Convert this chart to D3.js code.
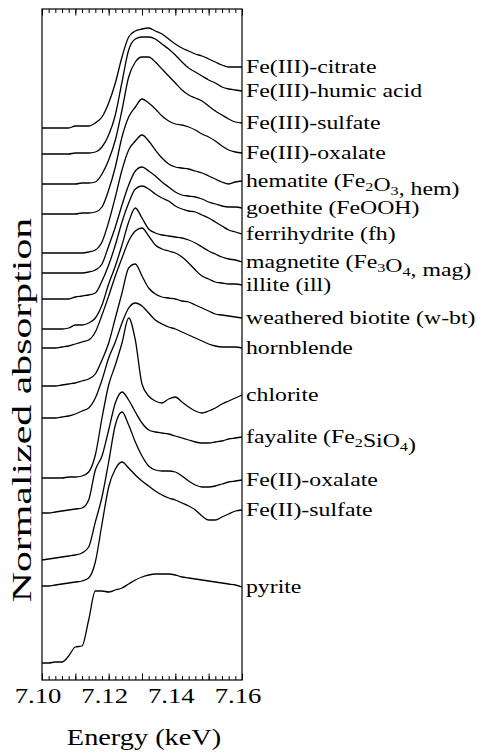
<!DOCTYPE html>
<html>
<head>
<meta charset="utf-8">
<script src="https://cdn.jsdelivr.net/npm/d3@7"></script>
<style>
body { margin: 0; background: #fff; }
text { font-family: "Liberation Serif", "Times New Roman", serif; fill: #000; }
</style>
</head>
<body>
<svg id="chart" width="477" height="754"></svg>
<script>
// energy grid (keV)
const energy = [7.100, 7.102, 7.104, 7.106, 7.108, 7.110, 7.112, 7.114, 7.116, 7.118,
    7.120, 7.122, 7.124, 7.126, 7.128, 7.130, 7.132, 7.134, 7.136, 7.138,
    7.140, 7.142, 7.144, 7.146, 7.148, 7.150, 7.152, 7.154, 7.156, 7.158, 7.160]

const names = ["Fe(III)-citrate", "Fe(III)-humic acid", "Fe(III)-sulfate", "Fe(III)-oxalate",
    "hematite (Fe_2O_3, hem)", "goethite (FeOOH)", "ferrihydrite (fh)", "magnetite (Fe_3O_4, mag)",
    "illite (ill)", "weathered biotite (w-bt)", "hornblende", "chlorite",
    "fayalite (Fe_2SiO_4)", "Fe(II)-oxalate", "Fe(II)-sulfate", "pyrite"]

// vertical stacking offsets (pre-edge level of each spectrum)
const offsets = [5.52, 5.26, 4.96, 4.66, 4.27, 4.07, 3.81, 3.51, 3.32, 2.94, 2.62, 2.02, 1.67, 1.20, 0.94, 0.17]

// normalized absorption above each offset
const feCitrate = [0, 0, 0, 0, 0, .02, .02, .02, .05, .11, .25, .45, .71, .91, .97, .99, 1.00, .97, .94, .89, .84, .80, .77, .74, .72, .69, .66, .63, .61, .61, .61]
const feHumic = [0, 0, 0, 0, 0, .01, .01, .01, .02, .07, .19, .39, .72, 1.04, 1.15, 1.17, 1.17, 1.15, 1.10, 1.05, .99, .92, .86, .82, .78, .74, .71, .67, .65, .64, .63]
const fe3Sulfate = [0, 0, 0, 0, 0, 0, .01, .01, .02, .10, .24, .44, .74, 1.07, 1.22, 1.27, 1.27, 1.22, 1.15, 1.08, 1.01, .94, .89, .86, .83, .78, .73, .69, .65, .62, .61]
const fe3Oxalate = [0, 0, 0, 0, 0, 0, .01, .01, .02, .07, .24, .47, .77, .97, 1.07, 1.15, 1.11, 1.05, .98, .93, .90, .89, .87, .84, .80, .77, .73, .68, .64, .62, .61]
const hematite = [0, 0, 0, 0, 0, 0, 0, .01, .03, .11, .31, .56, .83, 1.03, 1.12, 1.18, 1.12, 1.03, .95, .89, .86, .85, .84, .82, .80, .77, .74, .71, .69, .71, .72]
const goethite = [0, 0, 0, 0, 0, 0, 0, .01, .03, .09, .27, .46, .68, .88, 1.02, 1.06, 1.02, .97, .91, .86, .81, .78, .77, .76, .74, .71, .69, .67, .66, .66, .65]
const ferrihydrite = [0, 0, 0, 0, 0, .02, .03, .04, .06, .18, .34, .54, .77, .96, 1.10, 1.13, 1.10, 1.05, 1.01, .98, .93, .90, .88, .87, .84, .81, .77, .73, .69, .67, .65]
const magnetite = [0, 0, 0, 0, .01, .04, .04, .06, .11, .24, .45, .63, .84, 1.07, 1.21, 1.11, 1.00, .96, .94, .93, .92, .91, .89, .86, .82, .78, .75, .72, .70, .69, .67]
const illite = [0, 0, 0, .01, .02, .04, .06, .08, .16, .33, .52, .72, .90, 1.07, 1.17, 1.20, 1.12, 1.03, .99, .97, .95, .91, .85, .78, .72, .69, .66, .65, .64, .64, .63]
const wBiotite = [0, 0, 0, .01, .02, .03, .05, .07, .12, .26, .43, .68, .93, 1.18, 1.22, 1.10, .98, .92, .89, .88, .87, .85, .84, .81, .78, .75, .72, .71, .70, .69, .68]
const hornblende = [0, 0, 0, .01, .02, .04, .07, .10, .20, .38, .60, .76, .95, 1.10, 1.15, 1.12, 1.05, .98, .94, .91, .89, .86, .83, .80, .77, .74, .72, .71, .71, .71, .70]
const chlorite = [0, 0, 0, 0, .01, .01, .02, .06, .23, .60, .93, 1.13, 1.35, 1.60, 1.38, .94, .82, .77, .75, .79, .81, .76, .71, .67, .65, .67, .70, .74, .77, .80, .83]
const fayalite = [0, 0, .01, .02, .03, .04, .05, .13, .43, .57, .83, 1.10, 1.21, 1.13, 1.01, .90, .83, .81, .80, .79, .77, .75, .73, .71, .70, .70, .71, .72, .74, .75, .76]
const fe2Oxalate = [0, .01, .02, .03, .04, .05, .07, .13, .38, .63, .98, 1.35, 1.48, 1.35, 1.18, 1.04, .94, .90, .89, .89, .88, .84, .79, .75, .73, .73, .74, .76, .78, .79, .80]
const fe2Sulfate = [0, 0, .01, .02, .03, .04, .05, .08, .24, .62, .99, 1.17, 1.24, 1.18, 1.11, 1.05, 1.00, .95, .91, .88, .86, .83, .80, .76, .70, .66, .66, .69, .72, .75, .76]
const pyrite = [0, 0, .01, .01, .07, .16, .17, .43, .72, .72, .71, .73, .75, .79, .83, .86, .88, .89, .89, .89, .88, .86, .85, .84, .83, .82, .81, .80, .79, .78, .76]

const spectra = [feCitrate, feHumic, fe3Sulfate, fe3Oxalate, hematite, goethite, ferrihydrite, magnetite,
    illite, wBiotite, hornblende, chlorite, fayalite, fe2Oxalate, fe2Sulfate, pyrite]

const labelTicks = [7.10, 7.12, 7.14, 7.16]
const majorTicks = [7.10, 7.11, 7.12, 7.13, 7.14, 7.15, 7.16]
const minorTicks = energy

const plot = {left: 42, right: 242, top: 9, bottom: 680}

const svg = d3.select("#chart")

const x = d3.scaleLinear().domain([7.10, 7.16]).range([plot.left, plot.right])
const y = d3.scaleLinear().domain([0, 6.71]).range([plot.bottom, plot.top])

// inward ticks, top and bottom
function tickRow(axisFn, ypos, values, len) {
    svg.append("g")
        .attr("transform", `translate(0,${ypos})`)
        .call(axisFn(x).tickValues(values).tickSize(-len).tickFormat(""))
        .call(g => g.select(".domain").remove())
        .call(g => g.selectAll("line").attr("stroke", "#000").attr("stroke-width", 1))
}
tickRow(d3.axisTop, plot.top, minorTicks, 4)
tickRow(d3.axisTop, plot.top, majorTicks, 6.5)
tickRow(d3.axisBottom, plot.bottom, minorTicks, 4)
tickRow(d3.axisBottom, plot.bottom, majorTicks, 6.5)

svg.append("rect")
    .attr("x", plot.left)
    .attr("y", plot.top)
    .attr("width", plot.right - plot.left)
    .attr("height", plot.bottom - plot.top)
    .attr("fill", "none")
    .attr("stroke", "#000")
    .attr("stroke-width", 1.2)

svg.append("g")
    .selectAll("text")
    .data(labelTicks)
    .join("text")
    .attr("transform", d => `translate(${x(d) - 4},703) scale(1.27,1)`)
    .attr("text-anchor", "middle")
    .attr("font-size", 21)
    .text(d3.format(".2f"))

svg.append("text")
    .attr("transform", "translate(144,745) scale(1.18,1)")
    .attr("text-anchor", "middle")
    .attr("font-size", 24)
    .text("Energy (keV)")

svg.append("text")
    .attr("transform", "translate(31,410) rotate(-90) scale(1.55,1)")
    .attr("text-anchor", "middle")
    .attr("font-size", 27)
    .text("Normalized absorption")

const line = d3.line()
    .x((d, i) => x(energy[i]))
    .y(d => y(d))
    .curve(d3.curveMonotoneX)

svg.append("g")
    .selectAll("path")
    .data(spectra)
    .join("path")
    .attr("d", (s, k) => line(s.map(v => v + offsets[k])))
    .attr("fill", "none")
    .attr("stroke", "#000")
    .attr("stroke-width", 1.3)
    .attr("stroke-linejoin", "round")

// curve names at the right ends, "_n" marks a subscript digit
const labels = svg.append("g")
    .selectAll("text")
    .data(names)
    .join("text")
    .attr("transform", (d, k) => {
        const s = spectra[k]
        return `translate(246,${y(offsets[k] + s[s.length - 1]) + 6}) scale(1.25,1)`
    })
    .attr("font-size", 19)

labels.each(function (name) {
    const t = d3.select(this)
    const parts = name.split(/_(\d)/)
    parts.forEach((p, i) => {
        if (p === "") return
        if (i % 2 === 1) {
            t.append("tspan").attr("font-size", 13).attr("dy", 4).text(p)
            t.append("tspan").attr("font-size", 19).attr("dy", -4).text("")
        } else {
            t.append("tspan").text(p)
        }
    })
})
</script>
</body>
</html>
